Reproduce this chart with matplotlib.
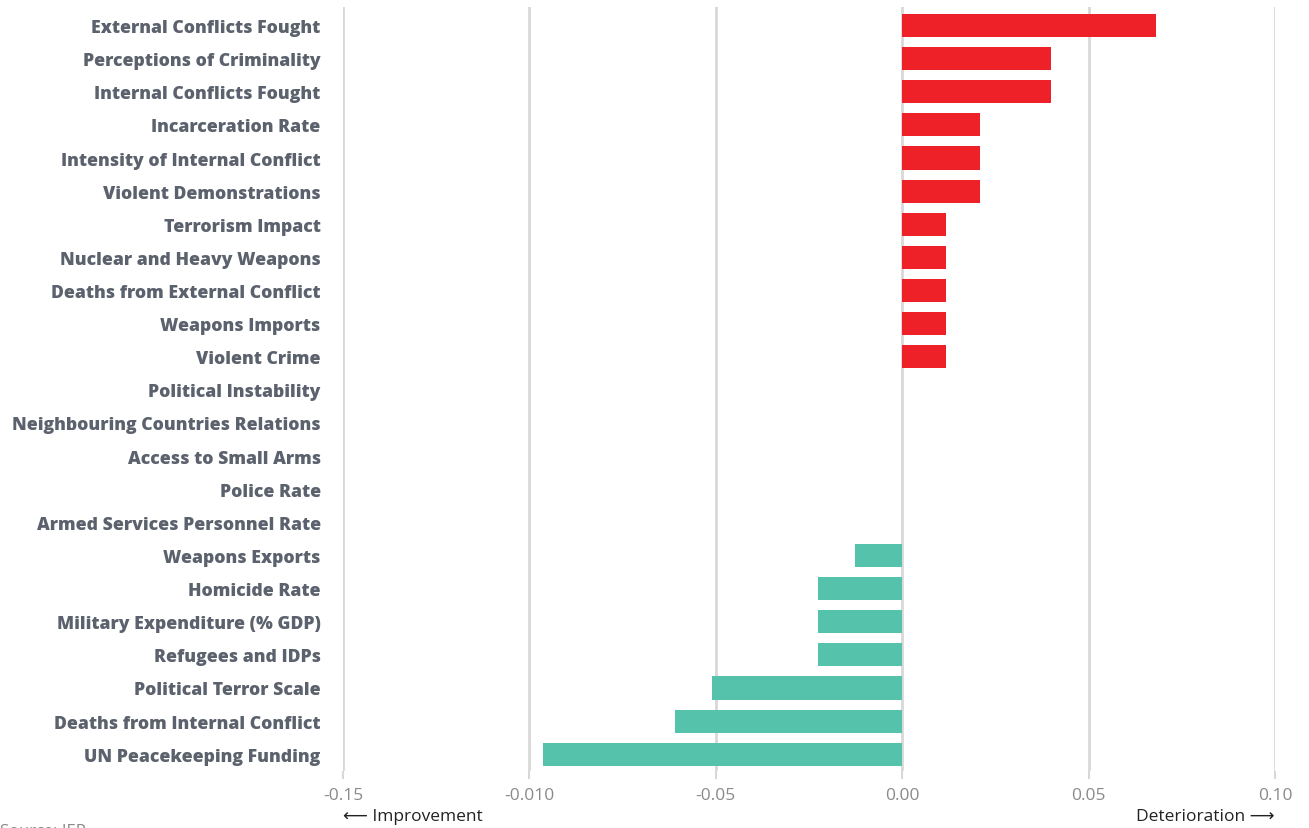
import matplotlib.pyplot as plt
import numpy as np

# indicators, top to bottom
labels = ['External Conflicts Fought', 'Perceptions of Criminality', 'Internal Conflicts Fought',
          'Incarceration Rate', 'Intensity of Internal Conflict', 'Violent Demonstrations',
          'Terrorism Impact', 'Nuclear and Heavy Weapons', 'Deaths from External Conflict',
          'Weapons Imports', 'Violent Crime', 'Political Instability',
          'Neighbouring Countries Relations', 'Access to Small Arms', 'Police Rate',
          'Armed Services Personnel Rate', 'Weapons Exports', 'Homicide Rate',
          'Military Expenditure (% GDP)', 'Refugees and IDPs', 'Political Terror Scale',
          'Deaths from Internal Conflict', 'UN Peacekeeping Funding']
values = [0.068, 0.040, 0.040, 0.021, 0.021, 0.021, 0.0117, 0.0117, 0.0117, 0.0117, 0.0117,
          0.0, 0.0, 0.0, 0.0, 0.0, -0.0127, -0.0225, -0.0225, -0.0225, -0.051, -0.061, -0.0963]
ticks = [-0.15, -0.10, -0.05, 0.0, 0.05, 0.10]
tick_labels = ['-0.15', '-0.010', '-0.05', '0.00', '0.05', '0.10']

red = '#ee2128'
teal = '#55c2ab'
label_col = '#5b626d'
fam = ['Open Sans', 'DejaVu Sans']

fig = plt.figure(figsize=(13.09, 8.29), dpi=100)
ax = fig.add_axes([0.262, 0.069, 0.712, 0.921])

y = np.arange(len(labels))
cols = [red if v > 0 else teal for v in values]
ax.barh(y, values, height=0.7, color=cols, zorder=3)

ax.set_xlim(-0.15, 0.10)
ax.set_ylim(len(labels) - 0.5, -0.55)
ax.set_xticks(ticks)
ax.set_xticklabels(tick_labels, fontsize=12.5, color='#8a8a8a', family=fam)
ax.set_yticks(y)
ax.set_yticklabels(labels, fontsize=12.7, color=label_col, fontweight='heavy', family=fam)
ax.tick_params(axis='y', length=0, pad=16)
ax.tick_params(axis='x', length=6, color='#d8d8d8', width=1.5, pad=6)
ax.grid(axis='x', color='#d8d8d8', linewidth=2, zorder=0)
for s in ax.spines.values():
    s.set_visible(False)

fig.text(343 / 1309, 12 / 829, '\u27f5 Improvement', fontsize=12.5, color='#222222',
         family=fam, ha='left', va='center')
fig.text(1275 / 1309, 12 / 829, 'Deterioration \u27f6', fontsize=12.5, color='#222222',
         family=fam, ha='right', va='center')
fig.text(0.0, -0.004, 'Source: IEP', fontsize=12, color='#8a8a8a', family=fam,
         ha='left', va='center')

fig.savefig('out.png', dpi=100)
